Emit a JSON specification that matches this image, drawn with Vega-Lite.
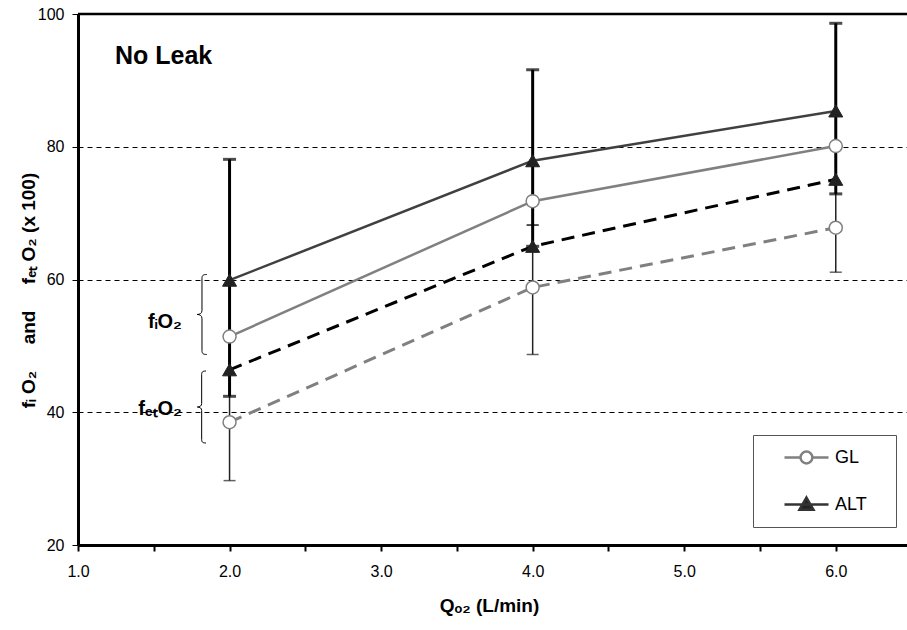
{
  "$schema": "https://vega.github.io/schema/vega-lite/v6.json",
  "width": 829,
  "height": 531,
  "autosize": "none",
  "padding": {"left": 78, "top": 14, "right": 0, "bottom": 85},
  "background": "white",
  "config": {
    "font": "Liberation Sans",
    "view": {"stroke": null},
    "legend": {
      "orient": "none",
      "legendX": 675,
      "legendY": 421,
      "strokeColor": "#555555",
      "fillColor": "#ffffff",
      "padding": 12,
      "rowPadding": 23,
      "labelOffset": 49,
      "symbolSize": 324,
      "symbolStrokeWidth": 2.5,
      "labelFontSize": 18,
      "labelFont": "Liberation Sans",
      "labelColor": "#000000",
      "labelBaseline": "middle",
      "cornerRadius": 0
    }
  },
  "datasets": {
    "main": [
      {"Q": 2, "series": "GL", "measure": "fIO2", "value": 51.4},
      {"Q": 4, "series": "GL", "measure": "fIO2", "value": 71.8},
      {"Q": 6, "series": "GL", "measure": "fIO2", "value": 80.1},
      {"Q": 2, "series": "ALT", "measure": "fIO2", "value": 59.9},
      {"Q": 4, "series": "ALT", "measure": "fIO2", "value": 77.9},
      {"Q": 6, "series": "ALT", "measure": "fIO2", "value": 85.4},
      {"Q": 2, "series": "ALT", "measure": "fETO2", "value": 46.4},
      {"Q": 4, "series": "ALT", "measure": "fETO2", "value": 65.0},
      {"Q": 6, "series": "ALT", "measure": "fETO2", "value": 75.1},
      {"Q": 2, "series": "GL", "measure": "fETO2", "value": 38.5},
      {"Q": 4, "series": "GL", "measure": "fETO2", "value": 58.8},
      {"Q": 6, "series": "GL", "measure": "fETO2", "value": 67.8}
    ],
    "bars": [
      {"Q": 2, "series": "ALT", "lo": 42.4, "hi": 78.1},
      {"Q": 4, "series": "ALT", "lo": 65.0, "hi": 91.6},
      {"Q": 6, "series": "ALT", "lo": 72.9, "hi": 98.6},
      {"Q": 2, "series": "GL", "lo": 29.7, "hi": 51.4},
      {"Q": 4, "series": "GL", "lo": 48.7, "hi": 68.2},
      {"Q": 4, "series": "GL", "lo": 68.2, "hi": 71.8},
      {"Q": 6, "series": "GL", "lo": 61.1, "hi": 80.1}
    ],
    "one": [{}]
  },
  "layer": [
    {
      "data": {"name": "main"},
      "transform": [{"filter": "datum.series == 'GL' && datum.measure == 'fETO2'"}],
      "mark": {"type": "line", "color": "#808080", "strokeWidth": 3, "strokeDash": [13, 8]},
      "encoding": {
        "x": {
          "field": "Q", "type": "quantitative", "title": "Qₒ₂ (L/min)",
          "scale": {"domain": [1, 6.47], "nice": false, "zero": false},
          "axis": {
            "values": [1, 1.5, 2, 2.5, 3, 3.5, 4, 4.5, 5, 5.5, 6],
            "labelExpr": "datum.value % 1 == 0 ? format(datum.value, '.1f') : ''",
            "labelFontSize": 16, "labelColor": "#000000", "labelPadding": 12,
            "labelOverlap": false, "labelFlush": false,
            "tickSize": 6, "tickWidth": 2, "tickColor": "#000000",
            "domainColor": "#000000", "domainWidth": 3, "grid": false,
            "titleFontSize": 19, "titleFontWeight": "bold", "titleColor": "#000000",
            "titleX": 411, "titleY": 60, "titleBaseline": "middle", "titleAlign": "center"
          }
        },
        "y": {
          "field": "value", "type": "quantitative", "title": "fᵢ O₂\u00a0\u00a0\u00a0\u00a0\u00a0and\u00a0\u00a0\u00a0\u00a0\u00a0fₑₜ O₂ (x 100)",
          "scale": {"domain": [20, 100], "nice": false, "zero": false},
          "axis": {
            "values": [20, 40, 60, 80, 100],
            "labelFontSize": 16, "labelColor": "#000000", "labelPadding": 8,
            "tickSize": 6, "tickWidth": 1, "tickColor": "#000000",
            "domainColor": "#000000", "domainWidth": 3,
            "grid": true, "gridColor": "#000000", "gridDash": [5, 4], "gridWidth": 1,
            "titleFontSize": 19, "titleFontWeight": "bold", "titleColor": "#000000",
            "titleX": -50, "titleY": 276, "titleAngle": 270, "titleBaseline": "middle", "titleAlign": "center"
          }
        }
      }
    },
    {
      "data": {"name": "main"},
      "transform": [{"filter": "datum.series == 'GL' && datum.measure == 'fIO2'"}],
      "mark": {"type": "line", "color": "#808080", "strokeWidth": 2.5},
      "encoding": {"x": {"field": "Q", "type": "quantitative"}, "y": {"field": "value", "type": "quantitative"}}
    },
    {
      "data": {"name": "main"},
      "transform": [{"filter": "datum.series == 'ALT' && datum.measure == 'fETO2'"}],
      "mark": {"type": "line", "color": "#000000", "strokeWidth": 3, "strokeDash": [13, 8]},
      "encoding": {"x": {"field": "Q", "type": "quantitative"}, "y": {"field": "value", "type": "quantitative"}}
    },
    {
      "data": {"name": "main"},
      "transform": [{"filter": "datum.series == 'ALT' && datum.measure == 'fIO2'"}],
      "mark": {"type": "line", "color": "#404040", "strokeWidth": 2.5},
      "encoding": {"x": {"field": "Q", "type": "quantitative"}, "y": {"field": "value", "type": "quantitative"}}
    },
    {
      "data": {"name": "one"},
      "mark": {"type": "rule", "color": "#000000", "strokeWidth": 2.5},
      "encoding": {"y": {"datum": 100, "type": "quantitative"}}
    },
    {
      "data": {"name": "bars"},
      "transform": [{"filter": "datum.series == 'GL'"}],
      "mark": {"type": "errorbar", "ticks": {"thickness": 1.5, "size": 12, "color": "#222222"}, "rule": {"strokeWidth": 1.5, "color": "#222222"}},
      "encoding": {
        "x": {"field": "Q", "type": "quantitative", "title": "Qₒ₂ (L/min)"},
        "y": {"field": "lo", "type": "quantitative", "title": "fᵢ O₂\u00a0\u00a0\u00a0\u00a0\u00a0and\u00a0\u00a0\u00a0\u00a0\u00a0fₑₜ O₂ (x 100)"},
        "y2": {"field": "hi"}
      }
    },
    {
      "data": {"name": "bars"},
      "transform": [{"filter": "datum.series == 'ALT'"}],
      "mark": {"type": "errorbar", "ticks": {"thickness": 3, "size": 13, "color": "#000000"}, "rule": {"strokeWidth": 3, "color": "#000000"}},
      "encoding": {
        "x": {"field": "Q", "type": "quantitative", "title": "Qₒ₂ (L/min)"},
        "y": {"field": "lo", "type": "quantitative", "title": "fᵢ O₂\u00a0\u00a0\u00a0\u00a0\u00a0and\u00a0\u00a0\u00a0\u00a0\u00a0fₑₜ O₂ (x 100)"},
        "y2": {"field": "hi"}
      }
    },
    {
      "data": {"name": "main"},
      "transform": [{"filter": "datum.series == 'GL'"}],
      "mark": {"type": "point", "shape": "circle", "size": 169, "filled": true, "fill": "#ffffff", "stroke": "#808080", "strokeWidth": 1.5, "opacity": 1},
      "encoding": {"x": {"field": "Q", "type": "quantitative"}, "y": {"field": "value", "type": "quantitative"}}
    },
    {
      "data": {"name": "main"},
      "transform": [{"filter": "datum.series == 'ALT'"}],
      "mark": {"type": "point", "shape": "triangle-up", "size": 196, "filled": true, "fill": "#222222", "stroke": "#222222", "strokeWidth": 1, "opacity": 1},
      "encoding": {"x": {"field": "Q", "type": "quantitative"}, "y": {"field": "value", "type": "quantitative"}}
    },
    {
      "data": {"name": "main"},
      "transform": [{"filter": "false"}],
      "mark": {"type": "point", "filled": true, "opacity": 1, "strokeWidth": 2.5},
      "encoding": {
        "x": {"field": "Q", "type": "quantitative"},
        "y": {"field": "value", "type": "quantitative"},
        "shape": {
          "field": "series", "type": "nominal",
          "scale": {"domain": ["GL", "ALT"], "range": ["M1,0H2.78M4.1,0H5.89M4.1,0A0.66,0.66,0,1,1,2.78,0A0.66,0.66,0,1,1,4.1,0ZM11.4,0", "M1,0H5.89M3.44,-0.77L4.22,0.58L2.66,0.58ZM11.4,0"]},
          "legend": {"title": null}
        },
        "fill": {
          "field": "series", "type": "nominal",
          "scale": {"domain": ["GL", "ALT"], "range": ["#ffffff", "#222222"]},
          "legend": {"title": null}
        },
        "stroke": {
          "field": "series", "type": "nominal",
          "scale": {"domain": ["GL", "ALT"], "range": ["#808080", "#333333"]},
          "legend": {"title": null}
        }
      }
    },
    {
      "data": {"name": "one"},
      "mark": {"type": "point", "shape": "M0.12,-1C0.02,-1,0,-0.97,0,-0.9L0,-0.1C0,-0.03,-0.05,0,-0.12,0C-0.05,0,0,0.03,0,0.1L0,0.9C0,0.97,0.02,1,0.12,1", "size": 6400, "filled": false, "stroke": "#000000", "strokeWidth": 1, "opacity": 1},
      "encoding": {"x": {"datum": 1.818, "type": "quantitative"}, "y": {"datum": 54.73, "type": "quantitative"}}
    },
    {
      "data": {"name": "one"},
      "mark": {"type": "point", "shape": "M0.12,-1C0.02,-1,0,-0.97,0,-0.9L0,-0.1C0,-0.03,-0.05,0,-0.12,0C-0.05,0,0,0.03,0,0.1L0,0.9C0,0.97,0.02,1,0.12,1", "size": 5184, "filled": false, "stroke": "#000000", "strokeWidth": 1, "opacity": 1},
      "encoding": {"x": {"datum": 1.816, "type": "quantitative"}, "y": {"datum": 40.79, "type": "quantitative"}}
    },
    {
      "data": {"name": "one"},
      "mark": {"type": "text", "align": "left", "baseline": "middle", "fontSize": 25, "fontWeight": "bold", "color": "#000000"},
      "encoding": {"x": {"datum": 1.244, "type": "quantitative"}, "y": {"datum": 93.6, "type": "quantitative"}, "text": {"value": "No Leak"}}
    },
    {
      "data": {"name": "one"},
      "mark": {"type": "text", "align": "right", "baseline": "middle", "fontSize": 20, "fontWeight": "bold", "color": "#000000"},
      "encoding": {"x": {"datum": 1.686, "type": "quantitative"}, "y": {"datum": 53.65, "type": "quantitative"}, "text": {"value": "fᵢO₂"}}
    },
    {
      "data": {"name": "one"},
      "mark": {"type": "text", "align": "right", "baseline": "middle", "fontSize": 20, "fontWeight": "bold", "color": "#000000"},
      "encoding": {"x": {"datum": 1.686, "type": "quantitative"}, "y": {"datum": 40.5, "type": "quantitative"}, "text": {"value": "fₑₜO₂"}}
    }
  ]
}
